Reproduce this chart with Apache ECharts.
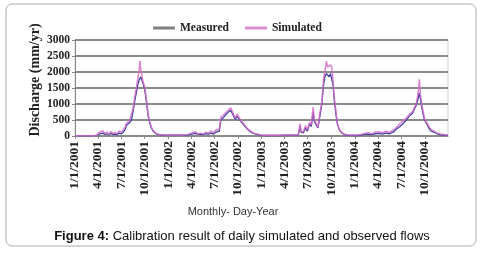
<!DOCTYPE html>
<html>
<head>
<meta charset="utf-8">
<script src="https://cdn.jsdelivr.net/npm/echarts@6/dist/echarts.min.js"></script>
<style>
html,body{margin:0;padding:0;background:#fff;}
#chart{width:482px;height:253px;}
</style>
</head>
<body>
<div id="chart"></div>
<script>
// quarter tick labels on the x axis
var quarterLabels = [
    '1/1/2001','4/1/2001','7/1/2001','10/1/2001',
    '1/1/2002','4/1/2002','7/1/2002','10/1/2002',
    '1/1/2003','4/1/2003','7/1/2003','10/1/2003',
    '1/1/2004','4/1/2004','7/1/2004','10/1/2004'
];
var yTicks = [0,500,1000,1500,2000,2500,3000];

// sample dates
var dates = [
    // 2001
    '2001-01-01','2001-01-16','2001-02-01','2001-02-16','2001-03-01','2001-03-16','2001-03-28',
    '2001-04-05','2001-04-12','2001-04-20','2001-04-28','2001-05-06','2001-05-14','2001-05-22','2001-05-30',
    '2001-06-07','2001-06-15','2001-06-23','2001-07-01','2001-07-09','2001-07-16','2001-07-21','2001-07-27',
    '2001-08-03','2001-08-10','2001-08-16','2001-08-23','2001-08-30','2001-09-05','2001-09-09','2001-09-12',
    '2001-09-15','2001-09-19','2001-09-24','2001-10-01','2001-10-08','2001-10-14','2001-10-20','2001-10-27',
    '2001-11-03','2001-11-16','2001-11-28','2001-12-10','2001-12-22',
    // 2002
    '2002-01-05','2002-01-20','2002-02-05','2002-02-20','2002-03-05','2002-03-20','2002-04-01','2002-04-08',
    '2002-04-18','2002-04-28','2002-05-08','2002-05-18','2002-05-28','2002-06-07','2002-06-17','2002-06-27',
    '2002-07-05','2002-07-12','2002-07-20','2002-07-26','2002-08-03','2002-08-10','2002-08-18','2002-08-26',
    '2002-09-03','2002-09-09','2002-09-15','2002-09-21','2002-09-27','2002-10-04','2002-10-10','2002-10-16',
    '2002-10-23','2002-10-31','2002-11-08','2002-11-19','2002-12-01','2002-12-14','2002-12-28',
    // 2003
    '2003-01-10','2003-01-25','2003-02-10','2003-02-25','2003-03-10','2003-03-25','2003-04-10','2003-04-25',
    '2003-05-10','2003-05-25','2003-06-01','2003-06-05','2003-06-14','2003-06-22','2003-06-30','2003-07-08',
    '2003-07-15','2003-07-22','2003-07-27','2003-08-02','2003-08-10','2003-08-17','2003-08-25','2003-09-01',
    '2003-09-06','2003-09-12','2003-09-17','2003-09-23','2003-09-28','2003-10-03','2003-10-08','2003-10-13',
    '2003-10-19','2003-10-25','2003-11-01','2003-11-10','2003-11-20','2003-12-01','2003-12-15','2003-12-28',
    // 2004
    '2004-01-10','2004-01-25','2004-02-08','2004-02-22','2004-03-07','2004-03-21','2004-04-04','2004-04-18',
    '2004-05-02','2004-05-16','2004-05-30','2004-06-10','2004-06-26','2004-07-10','2004-07-26','2004-08-05',
    '2004-08-15','2004-08-22','2004-08-28','2004-09-03','2004-09-07','2004-09-10','2004-09-14','2004-09-19',
    '2004-09-24','2004-09-30','2004-10-06','2004-10-17','2004-10-26','2004-11-06','2004-11-18','2004-12-01',
    '2004-12-12','2004-12-31'
];

var measured = [
    // 2001
    8,8,8,8,8,10,15,
    60,40,90,50,70,40,80,50,
    60,40,90,70,120,200,330,280,
    420,500,750,1100,1400,1650,1750,1800,
    1850,1850,1650,1450,1050,650,420,250,
    150,60,40,30,30,
    // 2002
    25,30,25,30,30,35,60,40,
    80,50,60,40,70,60,90,60,
    110,80,150,500,560,620,700,760,
    800,700,600,520,620,600,480,420,
    350,280,200,130,80,50,30,
    // 2003
    15,20,15,20,15,20,25,25,
    30,30,300,120,100,250,150,380,
    300,750,450,400,250,600,1000,1600,
    1850,1950,1900,1850,1950,1900,1600,1100,
    700,380,200,100,50,30,20,15,
    // 2004
    15,30,50,60,40,70,80,60,
    90,70,120,200,300,400,550,650,
    720,850,950,1100,1250,1350,1150,900,
    700,500,420,250,150,120,70,40,
    30,20
];

var simulated = [
    // 2001
    8,8,8,8,8,10,20,
    110,60,170,70,120,60,140,80,
    110,70,160,120,190,280,390,350,
    490,550,850,1220,1550,1850,2050,2350,
    2100,1950,1700,1540,1120,700,450,270,
    170,70,50,40,35,
    // 2002
    30,40,30,40,35,50,90,50,
    130,60,90,60,120,90,150,100,
    180,120,220,600,640,690,760,830,
    880,760,650,560,680,680,520,450,
    380,300,220,150,90,60,40,
    // 2003
    25,30,25,30,25,30,30,35,
    35,40,390,140,130,320,200,420,
    350,900,500,450,280,700,1050,1800,
    2000,2330,2150,2100,2220,2150,1750,1200,
    800,400,220,120,60,40,35,30,
    // 2004
    30,50,80,100,70,120,130,100,
    150,110,180,250,390,480,610,700,
    770,900,990,1250,1500,1770,1300,1000,
    800,550,460,300,200,150,90,60,
    50,30
];

function parseMDY(s){
    var p = s.split('/');
    return new Date(+p[2], +p[0]-1, +p[1]).getTime();
}
function parseISO(s){
    var p = s.split('-');
    return new Date(+p[0], +p[1]-1, +p[2]).getTime();
}
var quarterTimes = quarterLabels.map(parseMDY);
var times = dates.map(parseISO);

var serif = 'Liberation Serif';
var myChart = echarts.init(document.getElementById('chart'));
var option = {
    backgroundColor:'#fff',
    animation:false,
    legend:{
        left:148,
        top:17,
        icon:'rect',
        itemWidth:22,
        itemHeight:3,
        itemGap:16,
        textStyle:{fontFamily:serif,fontWeight:'bold',fontSize:11.5,color:'#222'},
        data:[
            {name:'Measured',itemStyle:{color:'#7f7f7f'}},
            {name:'Simulated',itemStyle:{color:'#d98fcf'}}
        ]
    },
    grid:{
        left:75,
        right:34,
        top:40,
        bottom:117,
        show:true,
        borderColor:'#cfcfcf',
        borderWidth:1
    },
    xAxis:{
        type:'value',
        min:parseMDY('1/1/2001'),
        max:parseMDY('12/31/2004'),
        axisLine:{onZero:false,lineStyle:{color:'#888',width:1}},
        axisTick:{show:true,length:3,customValues:quarterTimes,lineStyle:{color:'#888'}},
        splitLine:{show:false},
        axisLabel:{
            customValues:quarterTimes,
            rotate:90,
            margin:5,
            fontFamily:serif,
            fontWeight:'bold',
            fontSize:13.5,
            color:'#222',
            formatter:function(v){
                var i = quarterTimes.indexOf(v);
                return i >= 0 ? quarterLabels[i] : '';
            }
        }
    },
    yAxis:{
        type:'value',
        min:yTicks[0],
        max:yTicks[yTicks.length-1],
        interval:500,
        axisLine:{show:true,lineStyle:{color:'#888'}},
        axisTick:{show:true,length:3,lineStyle:{color:'#888'}},
        splitLine:{lineStyle:{color:'#8a8a8a',width:2}},
        axisLabel:{
            margin:5,fontFamily:serif,fontWeight:'bold',fontSize:11.5,color:'#222',
            formatter:function(v){return String(v);}
        }
    },
    graphic:[
        {
            type:'rect',
            shape:{x:6,y:4,width:470,height:242,r:6},
            style:{fill:'none',stroke:'#aaa',lineWidth:1},
            silent:true
        },
        {
            type:'text',
            x:35,y:80,
            rotation:Math.PI/2,
            style:{
                text:'Discharge (mm/yr)',
                fontFamily:serif,fontWeight:'bold',fontSize:14,fill:'#222',
                align:'center',verticalAlign:'middle'
            }
        },
        {
            type:'text',
            x:233,y:212,
            style:{
                text:'Monthly- Day-Year',
                fontFamily:'Liberation Sans',fontSize:11,fill:'#333',
                align:'center',verticalAlign:'middle'
            }
        },
        {
            type:'text',
            x:242,y:236,
            style:{
                text:'{b|Figure 4:} Calibration result of daily simulated and observed flows',
                fontFamily:'Liberation Sans',fontSize:13,fill:'#111',
                align:'center',verticalAlign:'middle',
                rich:{b:{fontFamily:'Liberation Sans',fontWeight:'bold',fontSize:13,fill:'#111'}}
            }
        }
    ],
    series:[
        {
            name:'Measured',
            type:'line',
            showSymbol:false,
            data:times.map(function(t,i){return [t,measured[i]];}),
            lineStyle:{color:'#3b3fa0',width:1.3},
            itemStyle:{color:'#3b3fa0'},
            z:2
        },
        {
            name:'Simulated',
            type:'line',
            showSymbol:false,
            data:times.map(function(t,i){return [t,simulated[i]];}),
            lineStyle:{color:'#d26cc4',width:1.5,opacity:0.85},
            itemStyle:{color:'#d26cc4'},
            z:3
        }
    ]
};
myChart.setOption(option);
</script>
</body>
</html>
